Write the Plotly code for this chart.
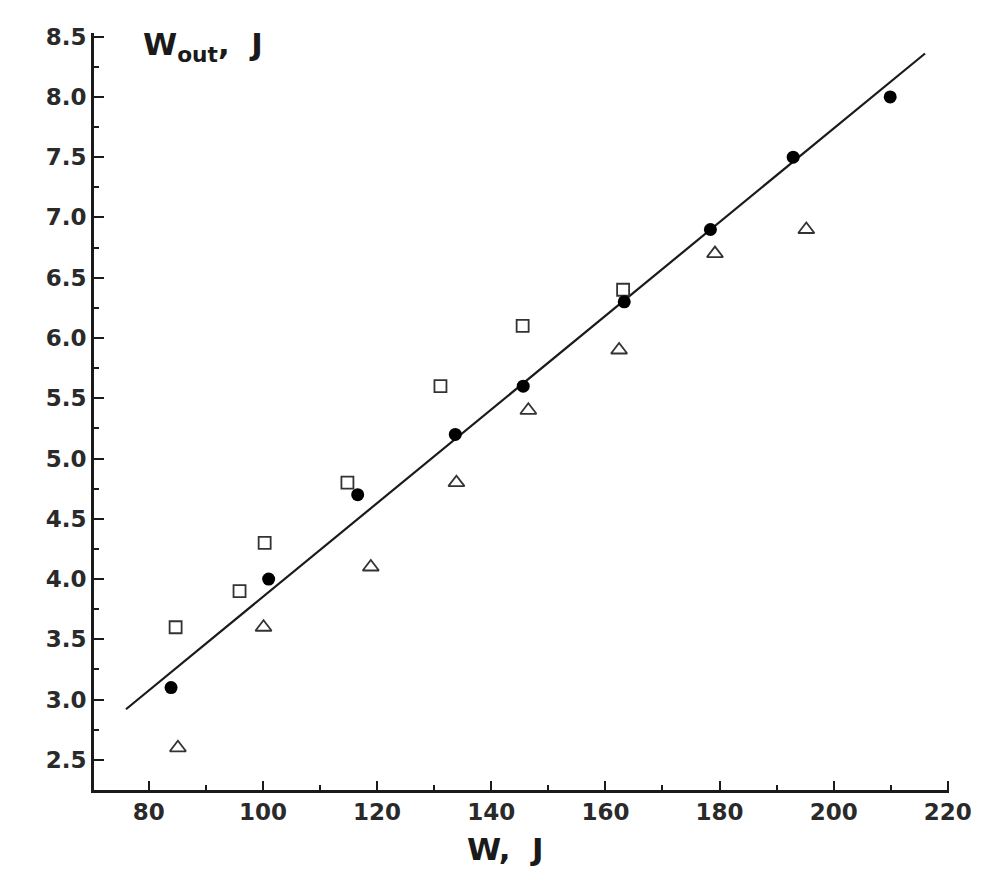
import plotly.graph_objects as go

# filled circles (fitted set)
circ_x = [83.9, 101.0, 116.6, 133.7, 145.6, 163.3, 178.4, 192.9, 209.9]
circ_y = [3.1, 4.0, 4.7, 5.2, 5.6, 6.3, 6.9, 7.5, 8.0]

# open squares
sq_x = [84.7, 95.9, 100.3, 114.8, 131.1, 145.5, 163.1]
sq_y = [3.6, 3.9, 4.3, 4.8, 5.6, 6.1, 6.4]

# open triangles
tri_x = [85.1, 100.1, 118.9, 133.9, 146.5, 162.4, 179.2, 195.2]
tri_y = [2.6, 3.6, 4.1, 4.8, 5.4, 5.9, 6.7, 6.9]

# straight line through the circles
line_x = [76.0, 216.0]
line_y = [2.92, 8.36]

x_ticks = [80, 100, 120, 140, 160, 180, 200, 220]
y_ticks = [2.5, 3.0, 3.5, 4.0, 4.5, 5.0, 5.5, 6.0, 6.5, 7.0, 7.5, 8.0, 8.5]

fnt = "DejaVu Sans, Verdana, sans-serif"
ink = "#1a1a1a"

fig = go.Figure()
fig.add_trace(go.Scatter(x=line_x, y=line_y, mode="lines",
                         line=dict(color=ink, width=2.2), showlegend=False))
fig.add_trace(go.Scatter(x=sq_x, y=sq_y, mode="markers", showlegend=False,
                         marker=dict(symbol="square-open", size=12,
                                     color="#333", line=dict(width=1.8))))
fig.add_trace(go.Scatter(x=tri_x, y=tri_y, mode="markers", showlegend=False,
                         marker=dict(symbol="triangle-up-open", size=14,
                                     color="#333", line=dict(width=1.8))))
fig.add_trace(go.Scatter(x=circ_x, y=circ_y, mode="markers", showlegend=False,
                         marker=dict(symbol="circle", size=13, color="black")))

fig.update_xaxes(range=[70.4, 220.2], tickvals=x_ticks,
                 ticktext=[str(v) for v in x_ticks],
                 ticks="inside", ticklen=9, tickwidth=2, tickcolor=ink,
                 minor=dict(dtick=10, tick0=0, ticks="inside", ticklen=5,
                            tickwidth=2, tickcolor=ink),
                 showline=True, linecolor=ink, linewidth=2.5,
                 showgrid=False, zeroline=False,
                 tickfont=dict(family=fnt, size=23, color="#2a2a2a", weight="bold"))
fig.update_yaxes(range=[2.25, 8.53], tickvals=y_ticks,
                 ticktext=["%.1f" % v for v in y_ticks],
                 ticks="inside", ticklen=10, tickwidth=2, tickcolor=ink,
                 minor=dict(dtick=0.25, tick0=0, ticks="inside", ticklen=5,
                            tickwidth=2, tickcolor=ink),
                 showline=True, linecolor=ink, linewidth=3,
                 showgrid=False, zeroline=False,
                 tickfont=dict(family=fnt, size=23, color="#2a2a2a", weight="bold"))

# axis titles as annotations so they sit where the original has them
fig.add_annotation(xref="paper", yref="paper", x=0.481, y=-0.078,
                   xanchor="center", yanchor="middle", showarrow=False,
                   text="W,  J",
                   font=dict(family=fnt, size=31, color=ink, weight="bold"))
fig.add_annotation(xref="paper", yref="paper", x=0.055, y=1.012,
                   xanchor="left", yanchor="top", showarrow=False,
                   text="W<sub>out</sub>,  J",
                   font=dict(family=fnt, size=31, color=ink, weight="bold"))

fig.update_layout(width=1000, height=887, plot_bgcolor="white",
                  paper_bgcolor="white",
                  margin=dict(l=86, r=59, t=25, b=105))

fig.write_html("out.html")
